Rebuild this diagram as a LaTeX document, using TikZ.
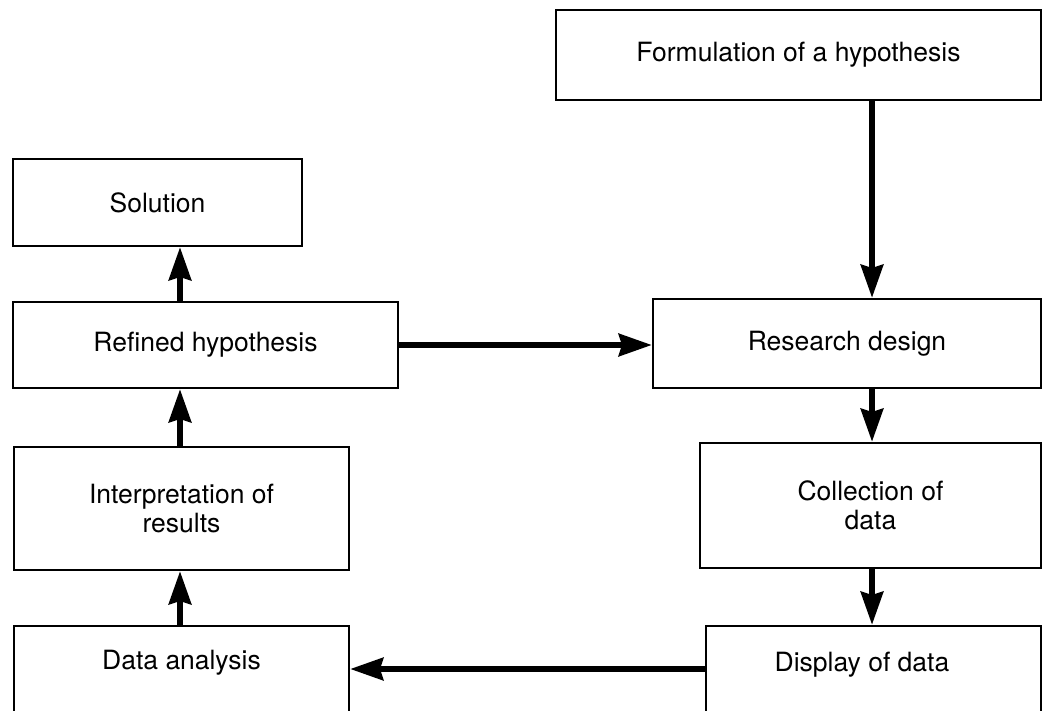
\documentclass[tikz,border=0pt]{standalone}
\usepackage{fontspec}
\setmainfont{TeX Gyre Heros}
\usetikzlibrary{arrows.meta}
\begin{document}
\begin{tikzpicture}[x=1pt,y=-1pt,
  box/.style={draw=black, line width=2pt, rectangle, inner sep=0pt,
    font=\fontsize{26.5}{29}\selectfont, align=center},
  txt/.style={font=\fontsize{26.5}{29}\selectfont, align=center, inner sep=0pt},
  flow/.style={line width=6.5pt, -{Stealth[length=33pt,width=22pt,inset=3pt]}}]
\useasboundingbox (0,0) rectangle (1048,711);
\clip (0,0) rectangle (1048,711);

% stages of the process
\node[box, minimum width=485pt, minimum height=90pt]  (form)   at (798.5,55)   {Formulation of a hypothesis};
\node[box, minimum width=289pt, minimum height=87pt]  (sol)    at (157.5,202.5) {Solution};
\node[box, minimum width=385pt, minimum height=86pt]  (refd)   at (205.5,345)  {Refined hypothesis};
\node[box, minimum width=388pt, minimum height=89pt]  (resd)   at (847,343.5)  {Research design};
\node[box, minimum width=335pt, minimum height=123pt] (interp) at (181.5,508.5) {Interpretation of\\results};
\node[box, minimum width=341pt, minimum height=125pt] (coll)   at (870.5,505.5) {Collection of\\data};
\node[box, minimum width=335pt, minimum height=94pt]  (anal)   at (181.5,673)  {};
\node[box, minimum width=335pt, minimum height=94pt]  (disp)   at (873.5,673)  {};
\node[txt] (analtxt) at (181.5,663) {Data analysis};
\node[txt] (disptxt) at (862,665)   {Display of data};

% arrow guide lines
\coordinate (rx) at (872,0);
\coordinate (lx) at (180,0);
\coordinate (hy) at (0,669);

% connectors
\draw[flow] (form.south -| rx) -- (resd.north -| rx);
\draw[flow] (resd.south -| rx) -- (coll.north -| rx);
\draw[flow] (coll.south -| rx) -- (disp.north -| rx);
\draw[flow] (disp.west |- hy) -- (anal.east |- hy);
\draw[flow] (anal.north -| lx) -- (interp.south -| lx);
\draw[flow] (interp.north -| lx) -- (refd.south -| lx);
\draw[flow] (refd.north -| lx) -- (sol.south -| lx);
\draw[flow] (refd.east) -- (refd.east -| resd.west);
\end{tikzpicture}
\end{document}
